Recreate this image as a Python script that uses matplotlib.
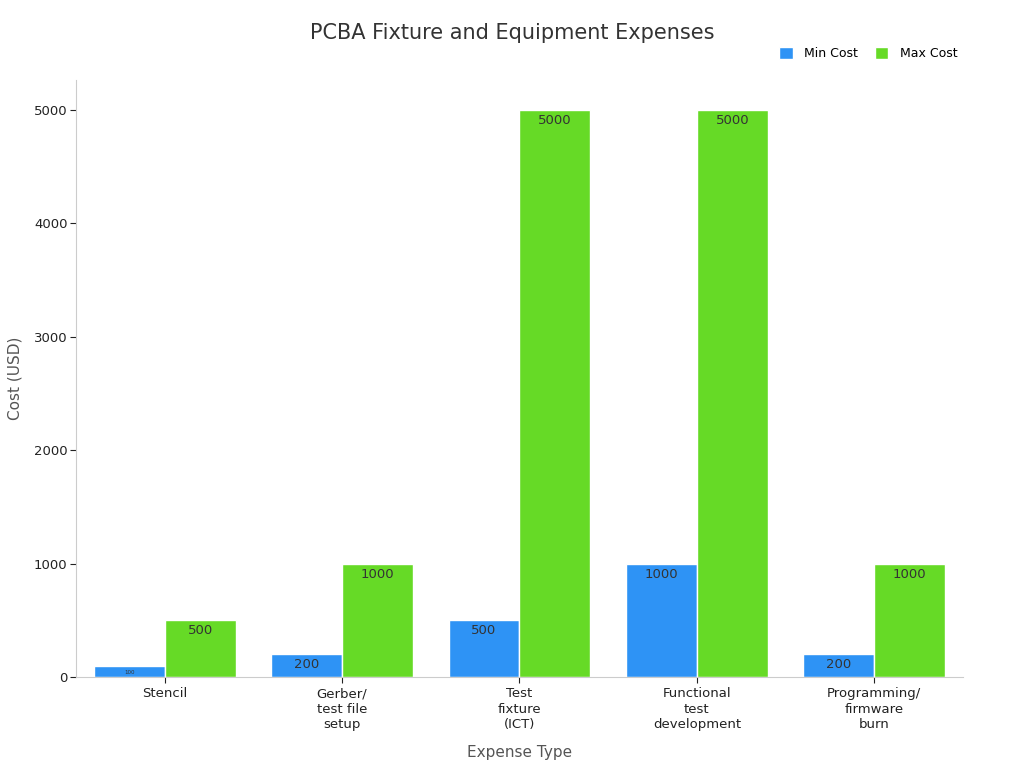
import matplotlib.pyplot as plt
import numpy as np

categories = ["Stencil", "Gerber/\ntest file\nsetup", "Test\nfixture\n(ICT)",
              "Functional\ntest\ndevelopment", "Programming/\nfirmware\nburn"]
min_cost = [100, 200, 500, 1000, 200]
max_cost = [500, 1000, 5000, 5000, 1000]

blue = "#2E93F5"
green = "#66DA26"

fig = plt.figure(figsize=(10.24, 7.68), dpi=100)
ax = fig.add_axes([0.0742, 0.1185, 0.8662, 0.7773])

x = np.arange(len(categories))
w = 0.4
b1 = ax.bar(x - w / 2, min_cost, w, color=blue, edgecolor="white", linewidth=1, label="Min Cost")
b2 = ax.bar(x + w / 2, max_cost, w, color=green, edgecolor="white", linewidth=1, label="Max Cost")

for bars, vals in ((b1, min_cost), (b2, max_cost)):
    for rect, v in zip(bars, vals):
        fs = 4 if v < 150 else 9.5
        ax.annotate(str(v), (rect.get_x() + rect.get_width() / 2, v),
                    xytext=(0, -3), textcoords="offset points",
                    ha="center", va="top", fontsize=fs, color="#333333")

ax.set_xlim(-0.5, 4.5)
ax.set_ylim(0, 5265)
ax.set_xticks(x)
ax.set_xticklabels(categories, fontsize=9.5, color="#222222", linespacing=1.25)
ax.set_yticks([0, 1000, 2000, 3000, 4000, 5000])
ax.tick_params(axis="y", labelsize=9.5, colors="#222222", length=4, pad=2)
ax.tick_params(axis="x", length=4, colors="#222222")
for s in ("top", "right"):
    ax.spines[s].set_visible(False)
for s in ("left", "bottom"):
    ax.spines[s].set_color("#cccccc")

ax.set_xlabel("Expense Type", fontsize=11, color="#555555", labelpad=10)
ax.set_ylabel("Cost (USD)", fontsize=11, color="#555555", labelpad=8)
fig.suptitle("PCBA Fixture and Equipment Expenses", fontsize=15, color="#333333", y=0.97)

ax.legend(loc="upper right", bbox_to_anchor=(1.004, 1.07), ncol=2, frameon=False,
          fontsize=9, handlelength=1.1, handleheight=1.1, handletextpad=0.95,
          columnspacing=1.3, borderpad=0.2)

fig.savefig("out.png", dpi=100)
